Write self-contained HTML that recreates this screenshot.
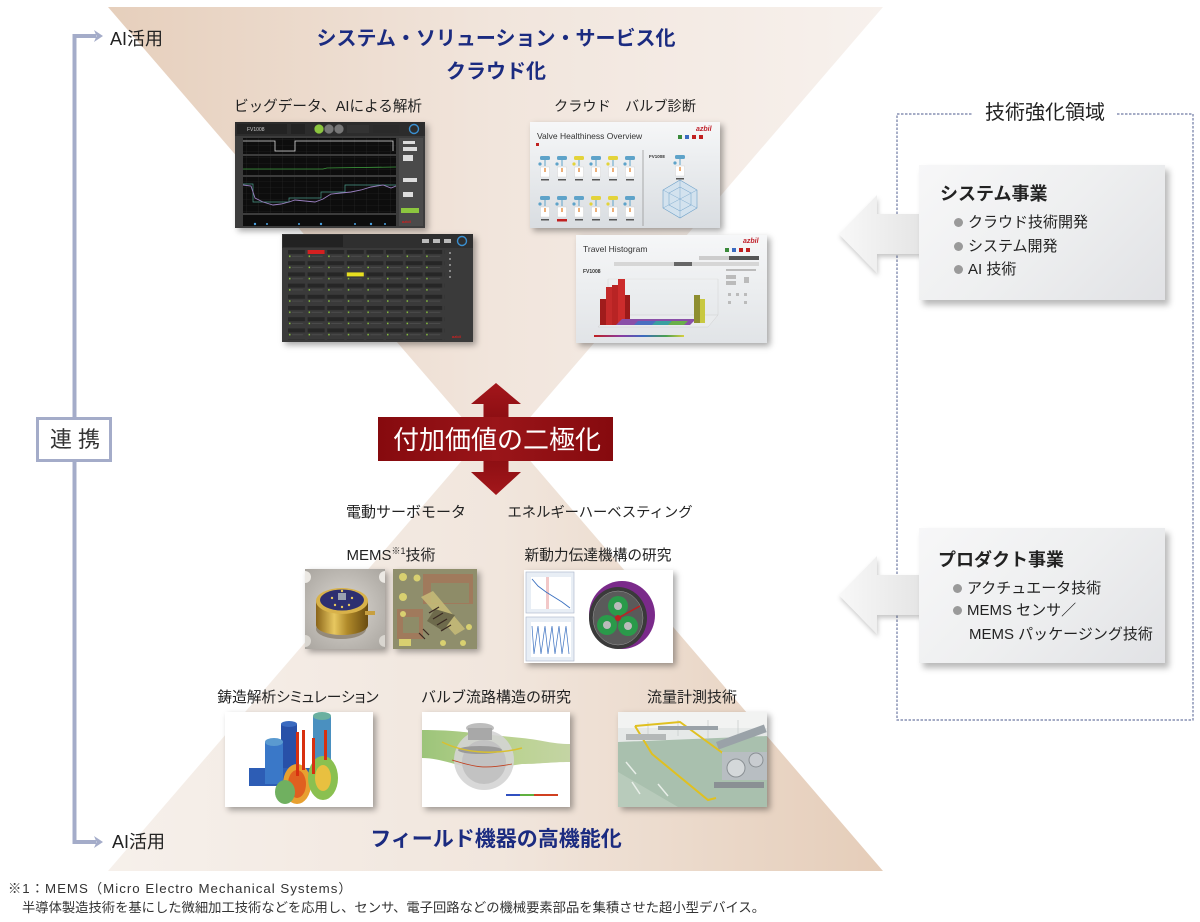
<!DOCTYPE html>
<html lang="ja">
<head>
<meta charset="utf-8">
<style>
  html,body{margin:0;padding:0;background:#fff;}
  body{width:1200px;height:922px;position:relative;overflow:hidden;
       font-family:"Liberation Sans","Noto Sans CJK JP",sans-serif;color:#222;}
  .t{position:absolute;white-space:nowrap;text-align:center;width:400px;}
  .l{position:absolute;white-space:nowrap;}
  .img{position:absolute;box-shadow:3px 3px 6px rgba(0,0,0,0.35);overflow:hidden;}
  .img svg{display:block;}
  .navy{color:#1b2b80;font-weight:bold;}
  .box{position:absolute;left:919px;width:246px;
       background:linear-gradient(135deg,#f7f7f8 0%,#eeeff0 50%,#e1e2e5 100%);
       box-shadow:4px 5px 6px rgba(0,0,0,0.28);}
  .bul{display:inline-block;width:9px;height:9px;border-radius:50%;background:#9a9a9a;margin-right:5px;vertical-align:middle;position:relative;top:-1px;}
</style>
</head>
<body>

<svg width="1200" height="922" style="position:absolute;left:0;top:0">
  <defs>
    <linearGradient id="gTop" gradientUnits="userSpaceOnUse" x1="108" y1="0" x2="883" y2="0">
      <stop offset="0" stop-color="#e6cfbc"/>
      <stop offset="0.5" stop-color="#f1e5dc"/>
      <stop offset="1" stop-color="#f7f1ed"/>
    </linearGradient>
    <linearGradient id="gBot" gradientUnits="userSpaceOnUse" x1="108" y1="0" x2="883" y2="0">
      <stop offset="0" stop-color="#f6f0eb"/>
      <stop offset="0.5" stop-color="#f1e6dd"/>
      <stop offset="1" stop-color="#e5cdb9"/>
    </linearGradient>
    <linearGradient id="gRed" x1="0" y1="0" x2="0" y2="1">
      <stop offset="0" stop-color="#a3161b"/>
      <stop offset="0.5" stop-color="#800a0e"/>
      <stop offset="1" stop-color="#a3171b"/>
    </linearGradient>
    <linearGradient id="gBox" x1="0" y1="0" x2="1" y2="0">
      <stop offset="0" stop-color="#860a0e"/>
      <stop offset="0.5" stop-color="#9a1519"/>
      <stop offset="1" stop-color="#860a0e"/>
    </linearGradient>
    <linearGradient id="gArrow" x1="0" y1="0" x2="1" y2="0">
      <stop offset="0" stop-color="#f8f8f8"/>
      <stop offset="1" stop-color="#e4e4e4"/>
    </linearGradient>
    <filter id="sh" x="-20%" y="-20%" width="150%" height="160%">
      <feDropShadow dx="1" dy="3" stdDeviation="2.5" flood-color="#000" flood-opacity="0.22"/>
    </filter>
  </defs>

  <!-- hourglass triangles -->
  <polygon points="108,7 883,7 496,457" fill="url(#gTop)"/>
  <polygon points="496,421 883,871 108,871" fill="url(#gBot)"/>

  <!-- left connector -->
  <g fill="none" stroke="#a4acc9" stroke-width="4">
    <polyline points="96,36 74.5,36 74.5,842 96,842"/>
  </g>
  <polygon points="94,30 103,36 94,42 96.5,36" fill="#a4acc9"/>
  <polygon points="94,836 103,842 94,848 96.5,842" fill="#a4acc9"/>
  <rect x="37.5" y="418.5" width="73" height="42" fill="#fff" stroke="#a4acc9" stroke-width="3"/>

  <!-- dashed domain box -->
  <rect x="897" y="114" width="296" height="606" fill="none" stroke="#6f7aa3" stroke-width="1.2" stroke-dasharray="2.5 1.5"/>
  <rect x="973" y="110" width="143" height="8" fill="#fff"/>

  <!-- big left arrows -->
  <polygon points="839,234 877,195 877,214 925,214 925,254 877,254 877,273" fill="url(#gArrow)" filter="url(#sh)"/>
  <polygon points="839,595 877,556 877,575 925,575 925,615 877,615 877,634" fill="url(#gArrow)" filter="url(#sh)"/>

  <!-- red double arrow -->
  <polygon points="496,383 521,404 508.5,404 508.5,472 521,472 496,495 471,472 483.5,472 483.5,404 471,404" fill="url(#gRed)"/>
  <rect x="378" y="417" width="235" height="44" fill="url(#gBox)"/>
</svg>

<!-- titles -->
<div class="t navy" style="left:296px;top:26px;font-size:20px;line-height:26px;">システム・ソリューション・サービス化</div>
<div class="t navy" style="left:296px;top:59px;font-size:20px;line-height:26px;">クラウド化</div>
<div class="t navy" style="left:296px;top:827px;font-size:21px;line-height:26px;">フィールド機器の高機能化</div>

<div class="l" style="left:110px;top:27px;font-size:18px;line-height:24px;">AI活用</div>
<div class="l" style="left:112px;top:830px;font-size:18px;line-height:24px;">AI活用</div>
<div class="l" style="left:37px;top:427px;width:76px;text-align:center;font-size:22px;line-height:26px;letter-spacing:6px;text-indent:6px;color:#333;">連携</div>

<div class="t" style="left:297px;top:424px;font-size:26px;line-height:32px;color:#fff;">付加価値の二極化</div>

<!-- labels -->
<div class="t" style="left:128px;top:97px;font-size:14.6px;line-height:20px;">ビッグデータ、AIによる解析</div>
<div class="t" style="left:425px;top:97px;font-size:14.2px;line-height:20px;">クラウド　バルブ診断</div>
<div class="t" style="left:206px;top:503px;font-size:15px;line-height:20px;">電動サーボモータ</div>
<div class="t" style="left:400px;top:503px;font-size:14.3px;line-height:20px;">エネルギーハーベスティング</div>
<div class="t" style="left:191px;top:546px;font-size:15px;line-height:20px;">MEMS<sup style="font-size:9px;vertical-align:6px;line-height:0;">※1</sup>技術</div>
<div class="t" style="left:398px;top:546px;font-size:14.7px;line-height:20px;">新動力伝達機構の研究</div>
<div class="t" style="left:98px;top:688px;font-size:14.7px;line-height:20px;font-feature-settings:'palt';">鋳造解析シミュレーション</div>
<div class="t" style="left:296px;top:688px;font-size:15px;line-height:20px;">バルブ流路構造の研究</div>
<div class="t" style="left:492px;top:688px;font-size:15px;line-height:20px;">流量計測技術</div>

<!-- right side -->
<div class="t" style="left:845px;top:100px;font-size:20px;line-height:26px;">技術強化領域</div>

<div class="box" style="top:165px;height:135px;"></div>
<div class="l" style="left:940px;top:182px;font-size:18px;line-height:24px;font-weight:bold;">システム事業</div>
<div class="l" style="left:954px;top:213px;font-size:15px;line-height:20px;"><span class="bul"></span>クラウド技術開発</div>
<div class="l" style="left:954px;top:237px;font-size:15px;line-height:20px;"><span class="bul"></span>システム開発</div>
<div class="l" style="left:954px;top:260px;font-size:15px;line-height:20px;"><span class="bul"></span>AI 技術</div>

<div class="box" style="top:528px;height:135px;"></div>
<div class="l" style="left:938px;top:548px;font-size:18px;line-height:24px;font-weight:bold;">プロダクト事業</div>
<div class="l" style="left:953px;top:579px;font-size:15px;line-height:20px;"><span class="bul"></span>アクチュエータ技術</div>
<div class="l" style="left:953px;top:601px;font-size:15px;line-height:20px;"><span class="bul"></span>MEMS センサ／</div>
<div class="l" style="left:969px;top:625px;font-size:15px;line-height:20px;">MEMS パッケージング技術</div>

<!-- footnote -->
<div class="l" style="left:8px;top:881px;font-size:13.3px;line-height:16px;color:#333;letter-spacing:1px;">※1：MEMS（Micro Electro Mechanical Systems）</div>
<div class="l" style="left:22px;top:900px;font-size:13.3px;line-height:16px;color:#333;">半導体製造技術を基にした微細加工技術などを応用し、センサ、電子回路などの機械要素部品を集積させた超小型デバイス。</div>

<!-- dark screenshot 1 -->
<div class="img" style="left:235px;top:122px;width:190px;height:106px;">
<svg width="190" height="106" viewBox="0 0 190 106">
  <defs>
    <pattern id="grd" width="12" height="6" patternUnits="userSpaceOnUse">
      <path d="M12 0V6M0 6H12" stroke="#2a2a2a" stroke-width="0.6" fill="none"/>
    </pattern>
  </defs>
  <rect width="190" height="106" fill="#3c3c3c"/>
  <rect width="190" height="14" fill="#2c2c2c"/>
  <rect x="2" y="2" width="50" height="10" fill="#232323"/>
  <text x="12" y="9" font-size="5" fill="#ccc" font-family="Liberation Sans">FV1008</text>
  <rect x="56" y="2" width="14" height="10" fill="#232323"/>
  <circle cx="84" cy="7" r="4.6" fill="#8cc63f"/>
  <circle cx="94" cy="7" r="4.6" fill="#777"/>
  <circle cx="104" cy="7" r="4.6" fill="#777"/>
  <rect x="112" y="3" width="22" height="8" fill="#333"/>
  <rect x="138" y="3" width="26" height="8" fill="#2a2a2a"/>
  <circle cx="179" cy="7" r="4.5" fill="none" stroke="#3a8fd0" stroke-width="1.4"/>
  <rect x="8" y="16" width="153" height="16" fill="#0d0d0d"/>
  <rect x="8" y="16" width="153" height="16" fill="url(#grd)"/>
  <polyline points="8,19 40,19 40,29 60,29 60,19 158,19 158,29" stroke="#ddd" fill="none" stroke-width="0.8"/>
  <rect x="8" y="34" width="153" height="19" fill="#0d0d0d"/>
  <rect x="8" y="34" width="153" height="19" fill="url(#grd)"/>
  <polyline points="8,47 88,47 92,46 161,45" stroke="#3d9a3d" fill="none" stroke-width="0.8"/>
  <rect x="8" y="55" width="153" height="36" fill="#0d0d0d"/>
  <rect x="8" y="55" width="153" height="36" fill="url(#grd)"/>
  <polyline points="8,62 18,62 18,80 54,80 54,76 86,76 86,70 110,70 110,63 161,63" stroke="#4a9a8a" fill="none" stroke-width="0.7"/>
  <polyline points="8,63 16,64 20,76 28,80 38,83 46,82 54,80 60,78 70,79 80,80 88,77 96,72 106,71 116,70 126,68 136,65 148,63 156,66 161,64" stroke="#9a80c0" fill="none" stroke-width="0.9"/>
  <rect x="8" y="93" width="153" height="11" fill="#0d0d0d"/>
  <g fill="#4aa0e0"><circle cx="20" cy="102" r="1.2"/><circle cx="32" cy="102" r="1"/><circle cx="64" cy="102" r="1"/><circle cx="86" cy="102" r="1.2"/><circle cx="120" cy="102" r="1"/><circle cx="136" cy="102" r="1.2"/><circle cx="150" cy="102" r="1"/></g>
  <rect x="164" y="16" width="24" height="88" fill="#4a4a4a"/>
  <g fill="#ddd"><rect x="168" y="19" width="12" height="3"/><rect x="168" y="25" width="14" height="4"/><rect x="168" y="33" width="10" height="6"/><rect x="168" y="56" width="14" height="4"/><rect x="168" y="70" width="10" height="5"/></g>
  <rect x="166" y="86" width="18" height="5" fill="#8cc63f"/>
  <text x="167" y="101" font-size="4" fill="#d02020" font-family="Liberation Sans" font-weight="bold">azbil</text>
</svg>
</div>

<!-- dark screenshot 2 -->
<div class="img" style="left:282px;top:234px;width:191px;height:108px;">
<svg width="191" height="108" viewBox="0 0 191 108">
  <defs>
    <pattern id="cells" x="6" y="16" width="19.6" height="11.2" patternUnits="userSpaceOnUse">
      <rect x="0" y="0" width="17" height="4" fill="#262626"/>
      <rect x="1" y="5.5" width="1.5" height="1.5" fill="#8cc63f"/>
      <rect x="4" y="6" width="11" height="0.6" fill="#555"/>
    </pattern>
  </defs>
  <rect width="191" height="108" fill="#3a3a3a"/>
  <rect width="191" height="14" fill="#2f2f2f"/>
  <rect x="1" y="1" width="60" height="12" fill="#222"/>
  <g fill="#bbb"><rect x="140" y="5" width="7" height="4"/><rect x="151" y="5" width="7" height="4"/><rect x="162" y="5" width="7" height="4"/></g>
  <circle cx="180" cy="7" r="4.5" fill="none" stroke="#3a8fd0" stroke-width="1.4"/>
  <rect x="6" y="16" width="157" height="90" fill="url(#cells)"/>
  <rect x="25.6" y="16" width="17" height="4" fill="#d42020"/>
  <rect x="64.8" y="38.4" width="17" height="4" fill="#e8e020"/>
  <g fill="#888"><rect x="167" y="18" width="2" height="2"/><rect x="167" y="24" width="2" height="2"/><rect x="167" y="30" width="2" height="2"/><rect x="167" y="36" width="2" height="2"/><rect x="167" y="42" width="2" height="2"/></g>
  <text x="170" y="104" font-size="4" fill="#d02020" font-family="Liberation Sans" font-weight="bold">azbil</text>
</svg>
</div>

<!-- valve healthiness -->
<div class="img" style="left:530px;top:122px;width:190px;height:106px;">
<svg width="190" height="106" viewBox="0 0 190 106">
  <defs>
    <linearGradient id="vg" x1="0" y1="0" x2="0" y2="1"><stop offset="0" stop-color="#f6f7f8"/><stop offset="1" stop-color="#d9dde1"/></linearGradient>
    <g id="fig">
      <rect x="-5" y="-7" width="10" height="4" rx="1.5" fill="#5ea3c9"/>
      <circle cx="-5" cy="1" r="1.6" fill="#5ea3c9"/>
      <rect x="-0.5" y="-3" width="1" height="6" fill="#5ea3c9"/>
      <rect x="-4.5" y="4" width="9" height="10" fill="#fff" stroke="#ccc" stroke-width="0.4"/>
      <rect x="-0.6" y="5" width="1.2" height="4" fill="#e07a20"/>
      <rect x="-4" y="16" width="8" height="1.5" fill="#555"/>
    </g>
    <g id="figy">
      <rect x="-5" y="-7" width="10" height="4" rx="1.5" fill="#e3d33a"/>
      <circle cx="-5" cy="1" r="1.6" fill="#e3d33a"/>
      <rect x="-0.5" y="-3" width="1" height="6" fill="#5ea3c9"/>
      <rect x="-4.5" y="4" width="9" height="10" fill="#fff" stroke="#ccc" stroke-width="0.4"/>
      <rect x="-0.6" y="5" width="1.2" height="4" fill="#e07a20"/>
      <rect x="-4" y="16" width="8" height="1.5" fill="#555"/>
    </g>
  </defs>
  <rect width="190" height="106" fill="url(#vg)"/>
  <text x="7" y="17" font-size="8.5" fill="#333" font-family="Liberation Sans">Valve Healthiness Overview</text>
  <text x="166" y="9" font-size="7" fill="#c0202a" font-style="italic" font-weight="bold" font-family="Liberation Sans">azbil</text>
  <g><rect x="148" y="13" width="4" height="4" fill="#3a8a3a"/><rect x="155" y="13" width="4" height="4" fill="#3a6ac0"/><rect x="162" y="13" width="4" height="4" fill="#c02020"/><rect x="169" y="13" width="4" height="4" fill="#c02020"/></g>
  <rect x="6" y="21" width="3" height="3" fill="#c02020"/>
  <line x1="113" y1="28" x2="113" y2="104" stroke="#999" stroke-width="0.8"/>
  <use href="#fig" x="15" y="41"/><use href="#fig" x="32" y="41"/><use href="#figy" x="49" y="41"/>
  <use href="#fig" x="66" y="41"/><use href="#figy" x="83" y="41"/><use href="#fig" x="100" y="41"/>
  <use href="#fig" x="15" y="81"/><use href="#fig" x="32" y="81"/><use href="#fig" x="49" y="81"/>
  <use href="#figy" x="66" y="81"/><use href="#figy" x="83" y="81"/><use href="#fig" x="100" y="81"/>
  <rect x="27" y="97" width="10" height="2.5" fill="#c02020"/>
  <text x="119" y="36" font-size="4.5" fill="#333" font-family="Liberation Sans" font-weight="bold">FV1008</text>
  <use href="#fig" x="150" y="40"/>
  <polygon points="150,58 167,68 167,86 150,96 133,86 133,68" fill="#d3e2ee" stroke="#6da0c8" stroke-width="0.6"/>
  <polygon points="150,65 161,71 161,83 150,89 139,83 139,71" fill="none" stroke="#6da0c8" stroke-width="0.5"/>
  <line x1="133" y1="68" x2="167" y2="86" stroke="#6da0c8" stroke-width="0.4"/>
  <line x1="167" y1="68" x2="133" y2="86" stroke="#6da0c8" stroke-width="0.4"/>
  <line x1="150" y1="58" x2="150" y2="96" stroke="#6da0c8" stroke-width="0.4"/>
</svg>
</div>

<!-- travel histogram -->
<div class="img" style="left:576px;top:235px;width:191px;height:108px;">
<svg width="191" height="108" viewBox="0 0 191 108">
  <defs>
    <linearGradient id="tg" x1="0" y1="0" x2="0" y2="1"><stop offset="0" stop-color="#f6f7f8"/><stop offset="1" stop-color="#e1e4e7"/></linearGradient>
    <linearGradient id="cs" x1="0" y1="0" x2="1" y2="0"><stop offset="0" stop-color="#c02020"/><stop offset="0.3" stop-color="#8a3aa0"/><stop offset="0.55" stop-color="#3a6ac0"/><stop offset="0.8" stop-color="#4aa050"/><stop offset="1" stop-color="#d8d040"/></linearGradient>
  </defs>
  <rect width="191" height="108" fill="url(#tg)"/>
  <text x="7" y="17" font-size="8.5" fill="#333" font-family="Liberation Sans">Travel Histogram</text>
  <text x="167" y="8" font-size="7" fill="#c0202a" font-style="italic" font-weight="bold" font-family="Liberation Sans">azbil</text>
  <g><rect x="149" y="13" width="4" height="4" fill="#3a8a3a"/><rect x="156" y="13" width="4" height="4" fill="#3a6ac0"/><rect x="163" y="13" width="4" height="4" fill="#c02020"/><rect x="170" y="13" width="4" height="4" fill="#c02020"/></g>
  <rect x="123" y="21" width="60" height="4" fill="#ccc"/><rect x="153" y="21" width="30" height="4" fill="#555"/>
  <rect x="38" y="27" width="145" height="4" fill="#d6d6d6"/><rect x="98" y="27" width="18" height="4" fill="#666"/>
  <text x="7" y="38" font-size="5" fill="#333" font-family="Liberation Sans" font-weight="bold">FV1008</text>
  <polygon points="22,92 132,92 142,80 32,80" fill="#e9ebed" stroke="#c8c8c8" stroke-width="0.4"/>
  <line x1="32" y1="44" x2="32" y2="80" stroke="#ccc" stroke-width="0.4"/>
  <line x1="32" y1="44" x2="142" y2="44" stroke="#ddd" stroke-width="0.4"/>
  <line x1="142" y1="44" x2="142" y2="80" stroke="#ccc" stroke-width="0.4"/>
  <rect x="24" y="64" width="6" height="26" fill="#a01c1c"/>
  <rect x="30" y="52" width="6" height="38" fill="#c42a2a"/>
  <rect x="36" y="50" width="6" height="40" fill="#b82424"/>
  <rect x="42" y="44" width="7" height="46" fill="#cc2c2c"/>
  <rect x="49" y="60" width="5" height="30" fill="#9a1a1a"/>
  <polygon points="40,90 46,84 120,84 114,90" fill="#8a4fa8"/>
  <polygon points="58,90 62,86 80,86 76,90" fill="#4a6fc0"/>
  <polygon points="76,90 80,86 96,86 92,90" fill="#3aa0a0"/>
  <polygon points="92,90 96,86 112,86 108,90" fill="#6ab04a"/>
  <rect x="118" y="60" width="6" height="28" fill="#8e8e30"/>
  <rect x="124" y="64" width="5" height="24" fill="#c8c840"/>
  <g fill="#bbb"><rect x="150" y="34" width="30" height="2"/><rect x="150" y="40" width="10" height="4"/><rect x="150" y="46" width="10" height="4"/><rect x="168" y="42" width="5" height="6"/><rect x="152" y="58" width="3" height="3"/><rect x="160" y="58" width="3" height="3"/><rect x="168" y="58" width="3" height="3"/><rect x="152" y="66" width="3" height="3"/><rect x="168" y="66" width="3" height="3"/></g>
  <rect x="18" y="100" width="90" height="2" fill="url(#cs)"/>
</svg>
</div>

<!-- MEMS 1 -->
<div class="img" style="left:305px;top:569px;width:80px;height:80px;">
<svg width="80" height="80" viewBox="0 0 80 80">
  <defs>
    <radialGradient id="m1bg" cx="0.5" cy="0.5" r="0.7"><stop offset="0" stop-color="#dcd8d2"/><stop offset="1" stop-color="#a9a59f"/></radialGradient>
    <linearGradient id="gold" x1="0" y1="0" x2="1" y2="0"><stop offset="0" stop-color="#8a6418"/><stop offset="0.35" stop-color="#e8c860"/><stop offset="0.6" stop-color="#b08a2a"/><stop offset="1" stop-color="#6a4c10"/></linearGradient>
  </defs>
  <rect width="80" height="80" fill="url(#m1bg)"/>
  <circle cx="0" cy="8" r="6" fill="#ece9e4"/><circle cx="80" cy="8" r="6" fill="#ece9e4"/>
  <circle cx="0" cy="72" r="6" fill="#d9d6d0"/><circle cx="80" cy="72" r="6" fill="#d9d6d0"/>
  <ellipse cx="36" cy="60" rx="25" ry="10" fill="#6a5a40" opacity="0.5"/>
  <rect x="11" y="32" width="52" height="24" fill="url(#gold)"/>
  <ellipse cx="37" cy="56" rx="26" ry="10" fill="url(#gold)"/>
  <rect x="60" y="42" width="10" height="4" fill="#c8a040"/>
  <ellipse cx="37" cy="32" rx="26" ry="13" fill="#d8b24a"/>
  <ellipse cx="37" cy="31" rx="22" ry="10.5" fill="#2e2f70"/>
  <rect x="33" y="24" width="8" height="7" fill="#9aa0b0"/>
  <g fill="#e8c860"><circle cx="27" cy="29" r="1.2"/><circle cx="47" cy="29" r="1.2"/><circle cx="30" cy="36" r="1.2"/><circle cx="37" cy="38" r="1.2"/><circle cx="44" cy="36" r="1.2"/><circle cx="37" cy="22" r="1.2"/></g>
</svg>
</div>

<!-- MEMS 2 -->
<div class="img" style="left:393px;top:569px;width:84px;height:80px;">
<svg width="84" height="80" viewBox="0 0 84 80">
  <rect width="84" height="80" fill="#8f8e6c"/>
  <rect x="30" y="5" width="50" height="30" fill="#a07a5c"/>
  <rect x="38" y="14" width="38" height="20" fill="#8e8c68"/>
  <rect x="4" y="40" width="26" height="30" fill="#a07a5c"/>
  <rect x="10" y="48" width="16" height="16" fill="#8e8c68"/>
  <g fill="#d8d070"><circle cx="10" cy="8" r="4"/><circle cx="24" cy="9" r="3.5"/><circle cx="10" cy="28" r="4"/><circle cx="10" cy="45" r="3"/><circle cx="70" cy="74" r="3"/><circle cx="50" cy="74" r="3"/><circle cx="76" cy="58" r="3"/><rect x="6" y="70" width="12" height="7"/></g>
  <polygon points="28,28 40,22 72,60 62,66" fill="#c8bc78" opacity="0.85"/>
  <polygon points="34,52 42,40 62,46 50,62" fill="#6e6a4c"/>
  <g stroke="#3a2a22" stroke-width="1.2"><line x1="36" y1="44" x2="46" y2="38"/><line x1="40" y1="50" x2="50" y2="44"/><line x1="44" y1="56" x2="54" y2="50"/><line x1="48" y1="62" x2="58" y2="56"/><line x1="30" y1="60" x2="36" y2="66"/><line x1="26" y1="64" x2="32" y2="70"/></g>
</svg>
</div>

<!-- power transmission -->
<div class="img" style="left:524px;top:570px;width:149px;height:93px;">
<svg width="149" height="93" viewBox="0 0 149 93">
  <rect width="149" height="93" fill="#fff"/>
  <rect x="2" y="2" width="48" height="41" fill="#e8eef5" stroke="#a8b4c8" stroke-width="0.6"/>
  <rect x="7" y="7" width="40" height="32" fill="#fff"/>
  <rect x="22" y="7" width="3" height="32" fill="#f2c8c8"/>
  <polyline points="8,9 14,16 22,22 30,27 38,32 46,38" stroke="#3a70c0" fill="none" stroke-width="0.9"/>
  <rect x="2" y="47" width="48" height="44" fill="#e8eef5" stroke="#a8b4c8" stroke-width="0.6"/>
  <rect x="7" y="52" width="40" height="35" fill="#fff"/>
  <polyline points="8,56 10,84 14,56 17,84 21,56 24,84 28,56 31,84 35,56 38,84 42,56 45,84" stroke="#3a70c0" fill="none" stroke-width="0.7"/>
  <ellipse cx="98" cy="45" rx="33" ry="34" fill="#7a2a8a"/>
  <ellipse cx="94" cy="48" rx="29" ry="31" fill="#3a3a3a"/>
  <ellipse cx="94" cy="48" rx="25" ry="27" fill="#5a5a5a" stroke="#999" stroke-width="0.5"/>
  <circle cx="94" cy="36" r="10" fill="#2a9a4a"/><circle cx="94" cy="36" r="4" fill="#bbb"/>
  <circle cx="83" cy="55" r="10" fill="#2a9a4a"/><circle cx="83" cy="55" r="4" fill="#bbb"/>
  <circle cx="104" cy="56" r="10" fill="#2a9a4a"/><circle cx="104" cy="56" r="4" fill="#bbb"/>
  <line x1="94" y1="48" x2="116" y2="36" stroke="#c02020" stroke-width="1.5"/>
  <circle cx="94" cy="48" r="3" fill="#c02020"/>
</svg>
</div>

<!-- casting -->
<div class="img" style="left:225px;top:712px;width:148px;height:95px;">
<svg width="148" height="95" viewBox="0 0 148 95">
  <rect width="148" height="95" fill="#fff"/>
  <rect x="24" y="56" width="78" height="18" fill="#2d5db5"/>
  <rect x="56" y="12" width="16" height="44" fill="#2850a8"/>
  <ellipse cx="64" cy="12" rx="8" ry="3" fill="#3a6ac0"/>
  <rect x="40" y="30" width="18" height="42" fill="#3a78c8"/>
  <ellipse cx="49" cy="30" rx="9" ry="4" fill="#5a9ad0"/>
  <rect x="88" y="4" width="18" height="54" fill="#4a90c0"/>
  <ellipse cx="97" cy="4" rx="9" ry="4" fill="#6ab0a0"/>
  <ellipse cx="72" cy="72" rx="14" ry="20" fill="#e8a030"/>
  <ellipse cx="72" cy="72" rx="9" ry="14" fill="#e06020"/>
  <ellipse cx="98" cy="66" rx="15" ry="22" fill="#8ac050"/>
  <ellipse cx="98" cy="66" rx="8" ry="13" fill="#e8c040"/>
  <ellipse cx="60" cy="80" rx="10" ry="12" fill="#70b060"/>
  <g fill="#d83010"><rect x="71" y="20" width="3" height="44"/><rect x="77" y="18" width="3" height="40"/><rect x="87" y="26" width="3" height="36"/><rect x="99" y="18" width="3" height="30"/></g>
</svg>
</div>

<!-- valve flow -->
<div class="img" style="left:422px;top:712px;width:148px;height:95px;">
<svg width="148" height="95" viewBox="0 0 148 95">
  <defs>
    <linearGradient id="pipe" x1="0" y1="0" x2="1" y2="0"><stop offset="0" stop-color="#9cc47a"/><stop offset="0.5" stop-color="#b8d28c"/><stop offset="1" stop-color="#c4d4a4"/></linearGradient>
  </defs>
  <rect width="148" height="95" fill="#fff"/>
  <path d="M0,18 C30,18 40,20 60,22 L100,26 C120,28 130,32 148,32 L148,50 C128,50 118,52 100,52 L60,58 C40,56 20,46 0,46 Z" fill="url(#pipe)"/>
  <ellipse cx="62" cy="48" rx="30" ry="30" fill="#d4d4d4" opacity="0.9"/>
  <ellipse cx="62" cy="50" rx="22" ry="22" fill="#c2c2c2"/>
  <ellipse cx="58" cy="16" rx="14" ry="5" fill="#bdbdbd"/>
  <rect x="46" y="16" width="24" height="12" fill="#a8a8a8"/>
  <ellipse cx="58" cy="38" rx="22" ry="4" fill="#9a9a9a"/>
  <path d="M20,30 C40,40 70,44 100,36" stroke="#d8c030" stroke-width="1.5" fill="none"/>
  <path d="M30,48 C50,54 60,58 90,52" stroke="#c04020" stroke-width="0.8" fill="none"/>
  <rect x="84" y="82" width="52" height="2" fill="#3050c0"/>
  <rect x="110" y="82" width="26" height="2" fill="#d04020"/>
  <rect x="98" y="82" width="14" height="2" fill="#60b040"/>
</svg>
</div>

<!-- flow measurement -->
<div class="img" style="left:618px;top:712px;width:149px;height:95px;">
<svg width="149" height="95" viewBox="0 0 149 95">
  <rect width="149" height="95" fill="#e6e9e8"/>
  <rect width="149" height="16" fill="#f2f3f2"/>
  <g stroke="#c8cccc" stroke-width="0.8"><line x1="30" y1="10" x2="30" y2="26"/><line x1="60" y1="8" x2="60" y2="24"/><line x1="90" y1="8" x2="90" y2="26"/><line x1="120" y1="8" x2="120" y2="28"/></g>
  <polygon points="0,30 149,24 149,95 0,95" fill="#a9c0ae"/>
  <polygon points="0,60 60,95 0,95" fill="#b8cbbb"/>
  <g stroke="#e8eee8" stroke-width="1.5"><line x1="8" y1="50" x2="18" y2="62"/><line x1="14" y1="70" x2="22" y2="82"/><line x1="40" y1="72" x2="50" y2="84"/></g>
  <path d="M17,14 L62,10 L106,42 M17,14 L34,42 L90,88 L98,86" stroke="#e0c020" stroke-width="2" fill="none"/>
  <g fill="#9aa2a8"><rect x="40" y="14" width="60" height="4"/><rect x="98" y="30" width="51" height="8" transform="rotate(-20 98 30)"/></g>
  <rect x="104" y="40" width="45" height="28" fill="#b8bec2"/>
  <circle cx="118" cy="56" r="9" fill="#d4d8da" stroke="#8a9094"/>
  <circle cx="138" cy="48" r="7" fill="#c8ccd0" stroke="#8a9094"/>
  <rect x="96" y="70" width="50" height="6" fill="#8a9094"/>
  <rect x="8" y="22" width="40" height="6" fill="#b4b8b8"/>
</svg>
</div>

</body>
</html>
